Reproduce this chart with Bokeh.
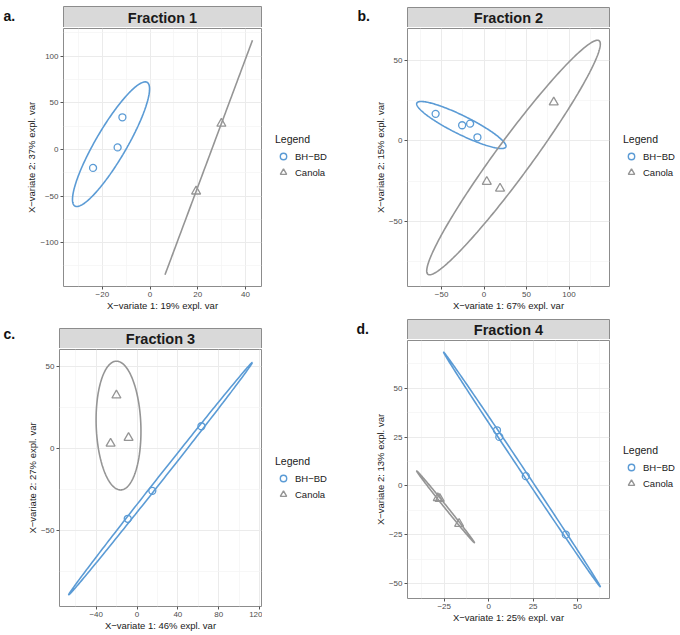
import numpy as np
from bokeh.plotting import figure
from bokeh.layouts import column, row
from bokeh.models import Range1d, FixedTicker, Legend, LegendItem
from bokeh.core.properties import value
from bokeh.embed import file_html
from bokeh.resources import INLINE

# ---------------- data ----------------
fractions = ["Fraction 1", "Fraction 2", "Fraction 3", "Fraction 4"]
letters = ["a.", "b.", "c.", "d."]
group_labels = ["BH\u2212BD", "Canola"]
expl_var_x = [19, 67, 46, 25]
expl_var_y = [37, 15, 27, 13]

f1_bhbd_x = [-23.9, -13.6, -11.6]
f1_bhbd_y = [-19.8, 2.2, 34.5]
f1_canola_x = [19.3, 29.9]
f1_canola_y = [-45.0, 27.7]

f2_bhbd_x = [-57.0, -25.8, -16.4, -7.8]
f2_bhbd_y = [16.9, 9.8, 10.8, 2.3]
f2_canola_x = [3.2, 18.8, 82.0]
f2_canola_y = [-25.4, -29.6, 24.1]

f3_bhbd_x = [-9.1, 15.0, 63.1]
f3_bhbd_y = [-42.7, -25.7, 13.6]
f3_canola_x = [-20.2, -25.9, -8.3]
f3_canola_y = [32.4, 3.1, 6.6]

f4_bhbd_x = [4.7, 6.0, 20.9, 43.4]
f4_bhbd_y = [28.5, 25.1, 5.0, -25.0]
f4_canola_x = [-27.5, -28.6, -16.6]
f4_canola_y = [-6.6, -6.2, -19.4]

x_ticks_1 = [-20, 0, 20, 40]
y_ticks_1 = [-100, -50, 0, 50, 100]
x_ticks_2 = [-50, 0, 50, 100]
y_ticks_2 = [-50, 0, 50]
x_ticks_3 = [-40, 0, 40, 80, 120]
y_ticks_3 = [-50, 0, 50]
x_ticks_4 = [-25, 0, 25, 50]
y_ticks_4 = [-50, -25, 0, 25, 50]

panels_data = [
    (f1_bhbd_x, f1_bhbd_y, f1_canola_x, f1_canola_y, x_ticks_1, y_ticks_1),
    (f2_bhbd_x, f2_bhbd_y, f2_canola_x, f2_canola_y, x_ticks_2, y_ticks_2),
    (f3_bhbd_x, f3_bhbd_y, f3_canola_x, f3_canola_y, x_ticks_3, y_ticks_3),
    (f4_bhbd_x, f4_bhbd_y, f4_canola_x, f4_canola_y, x_ticks_4, y_ticks_4),
]

# ---------------- styling / layout ----------------
BLUE = "#5B9BD5"
GREY = "#959595"
BORDER = "#8c8c8c"
FONT = "Liberation Sans"
W = 340
# hs: strip-figure height, qt: strip top inside it, hm: main-figure height,
# fl/fr: frame left/right, fb: frame bottom (in main fig), letter pos,
# lvy: legend offset from bottom, lvx: legend x offset
layouts = [
    dict(hs=27, qt=6, hm=291, fl=63, fr=261, fb=259, lx=3, ly=15.5, lvy=106, lvx=13),
    dict(hs=27, qt=7, hm=291, fl=67, fr=269, fb=259, lx=17, ly=15.0, lvy=106, lvx=13),
    dict(hs=30, qt=10, hm=286, fl=59, fr=261, fb=258, lx=3, ly=15.3, lvy=104, lvx=13),
    dict(hs=21, qt=1, hm=295, fl=67, fr=269, fb=259, lx=16, ly=10.5, lvy=107, lvx=13),
]


def conf_ellipse(x, y, level=0.95, n=240):
    x = np.asarray(x, float)
    y = np.asarray(y, float)
    cov = np.cov(x, y)
    t = np.sqrt(-2.0 * np.log(1.0 - level))
    sx, sy = np.sqrt(cov[0, 0]), np.sqrt(cov[1, 1])
    r = np.clip(cov[0, 1] / (sx * sy), -1.0, 1.0)
    d = np.arccos(r)
    a = np.linspace(0, 2 * np.pi, n)
    return (t * sx * np.cos(a + d / 2) + x.mean(),
            t * sy * np.cos(a - d / 2) + y.mean())


def minor_of(ticks):
    step = ticks[1] - ticks[0]
    ext = [ticks[0] - step] + list(ticks) + [ticks[-1] + step]
    return [(a + b) / 2 for a, b in zip(ext[:-1], ext[1:])]


def fmt(v):
    return ("%g" % v).replace("-", "\u2212")


def blank_fig(w, h):
    f = figure(width=w, height=h, x_range=Range1d(0, w), y_range=Range1d(h, 0),
               x_axis_type=None, y_axis_type=None, output_backend="svg",
               toolbar_location=None, min_border=0)
    f.outline_line_color = None
    f.grid.visible = False
    f.background_fill_color = "white"
    f.border_fill_color = "white"
    return f


columns = []
for i, (bx, by, cx, cy, xt, yt) in enumerate(panels_data):
    L = layouts[i]

    # ---- strip figure (facet title + panel letter) ----
    s = blank_fig(W, L["hs"])
    s.quad(left=[L["fl"]], right=[L["fr"]], top=[L["qt"]], bottom=[L["hs"] + 3],
           fill_color="#D9D9D9", line_color=BORDER, line_width=1)
    s.text(x=[(L["fl"] + L["fr"]) / 2], y=[(L["qt"] + L["hs"] + 1) / 2], text=[fractions[i]],
           text_align="center", text_baseline="middle", text_font=value(FONT),
           text_font_style="bold", text_font_size="14.5px", text_color="#1a1a1a")
    s.text(x=[L["lx"]], y=[L["ly"]], text=[letters[i]], text_align="left",
           text_baseline="alphabetic", text_font=value(FONT), text_font_style="bold",
           text_font_size="14px", text_color="#111111")

    # ---- main panel ----
    ebx, eby = conf_ellipse(bx, by)
    ecx, ecy = conf_ellipse(cx, cy)
    allx = np.concatenate([ebx, ecx, bx, cx])
    ally = np.concatenate([eby, ecy, by, cy])
    x0, x1 = allx.min(), allx.max()
    y0, y1 = ally.min(), ally.max()
    dx, dy = (x1 - x0) * 0.05, (y1 - y0) * 0.05

    hm = L["hm"]
    p = figure(width=L["fr"] + 1, height=hm, x_range=Range1d(x0 - dx, x1 + dx),
               y_range=Range1d(y0 - dy, y1 + dy),
               output_backend="svg", toolbar_location=None,
               min_border_left=L["fl"], min_border_right=1,
               min_border_top=1, min_border_bottom=hm - L["fb"],
               x_axis_label="X\u2212variate 1: %d%% expl. var" % expl_var_x[i],
               y_axis_label="X\u2212variate 2: %d%% expl. var" % expl_var_y[i])
    p.background_fill_color = "white"
    p.border_fill_color = "white"
    p.outline_line_color = BORDER
    p.outline_line_width = 1

    p.xaxis.ticker = FixedTicker(ticks=xt, minor_ticks=minor_of(xt))
    p.yaxis.ticker = FixedTicker(ticks=yt, minor_ticks=minor_of(yt))
    p.xaxis.major_label_overrides = {t: fmt(t) for t in xt}
    p.yaxis.major_label_overrides = {t: fmt(t) for t in yt}
    for g in (p.xgrid, p.ygrid):
        g.grid_line_color = "#EBEBEB"
        g.grid_line_width = 1
        g.minor_grid_line_color = "#F3F3F3"
        g.minor_grid_line_width = 0.7
    for ax in (p.xaxis, p.yaxis):
        ax.axis_line_color = None
        ax.minor_tick_line_color = None
        ax.major_tick_line_color = "#555555"
        ax.major_tick_out = 3
        ax.major_tick_in = 0
        ax.major_label_text_font = FONT
        ax.major_label_text_font_size = "8px"
        ax.major_label_text_color = "#4d4d4d"
        ax.major_label_standoff = 1
        ax.axis_label_text_font = FONT
        ax.axis_label_text_font_size = "9.5px"
        ax.axis_label_text_font_style = "normal"
        ax.axis_label_text_color = "#1a1a1a"
        ax.axis_label_standoff = 0

    p.line(ebx, eby, line_color=BLUE, line_width=1.6)
    p.line(ecx, ecy, line_color=GREY, line_width=1.6)
    p.scatter(bx, by, marker="circle", size=7, line_color=BLUE,
              fill_alpha=0, line_width=1.3)
    p.scatter(cx, cy, marker="triangle", size=9, line_color=GREY,
              fill_alpha=0, line_width=1.3)

    # ---- legend figure to the right of the panel ----
    lw = W - L["fr"] - 1
    lf = blank_fig(lw, hm)
    nan = np.array([np.nan])
    kb = lf.scatter(nan, nan, marker="circle", size=7, line_color=BLUE,
                    fill_alpha=0, line_width=1.4)
    kc = lf.scatter(nan, nan, marker="triangle", size=9, line_color=GREY,
                    fill_alpha=0, line_width=1.4)
    leg = Legend(items=[LegendItem(label=group_labels[0], renderers=[kb]),
                        LegendItem(label=group_labels[1], renderers=[kc])],
                 location=(L["lvx"], L["lvy"]), title="Legend")
    leg.title_text_font = FONT
    leg.title_text_font_size = "10.5px"
    leg.title_text_font_style = "normal"
    leg.title_text_color = "#1a1a1a"
    leg.title_standoff = 3
    leg.label_text_font = FONT
    leg.label_text_font_size = "9.5px"
    leg.label_text_color = "#1a1a1a"
    leg.glyph_width = 16
    leg.glyph_height = 16
    leg.label_height = 15
    leg.label_standoff = 4
    leg.spacing = 0
    leg.padding = 0
    leg.margin = 0
    leg.border_line_color = None
    leg.background_fill_alpha = 0
    lf.add_layout(leg)

    columns.append(column(s, row(p, lf)))

layout = column(row(columns[0], columns[1]), row(columns[2], columns[3]))
open("out.html", "w").write(file_html(layout, INLINE))
